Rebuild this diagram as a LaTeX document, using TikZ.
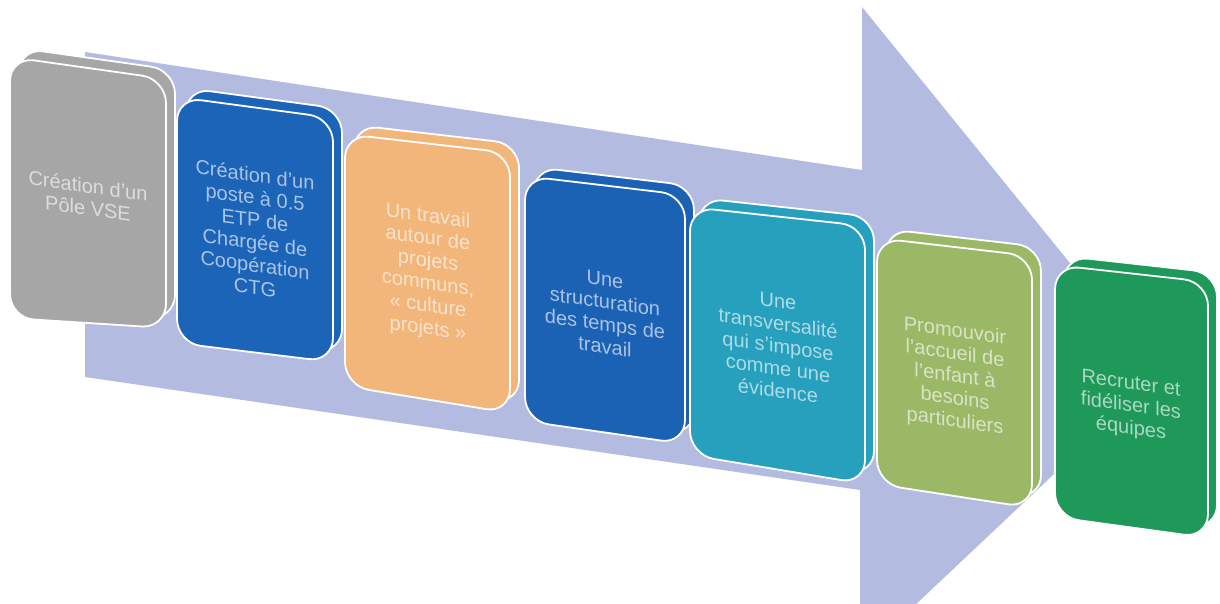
\documentclass[tikz,border=0pt]{standalone}
\usepackage{fontspec}
\setmainfont{Liberation Sans}
\definecolor{arrowc}{HTML}{B3BBE0}
\definecolor{cgray}{HTML}{A6A6A6}
\definecolor{cblue}{HTML}{1C64B8}
\definecolor{corange}{HTML}{F2B67B}
\definecolor{cdblue}{HTML}{1C62B4}
\definecolor{cteal}{HTML}{26A0BD}
\definecolor{colive}{HTML}{9BB866}
\definecolor{cgreen}{HTML}{1E995A}
\tikzset{
  cardface/.style={fill=#1, draw=white, line width=1.8pt, rounded corners=24pt},
  cardtext/.style={text=white!62!#1, font=\fontsize{20}{22.5}\selectfont,
    align=center, yslant=-0.14, inner sep=0pt},
  bigarrow/.style={fill=arrowc, draw=none},
}
\newcommand\mycardpair[5]{%
  \draw[cardface=#1, shift={(9,-9)}] #2 -- #3 -- #4 -- #5 -- cycle;
  \draw[cardface=#1] #2 -- #3 -- #4 -- #5 -- cycle;
}
\begin{document}
\begin{tikzpicture}[x=1pt,y=-1pt]
\useasboundingbox (0,0) rectangle (1220,603);
\clip (0,0) rectangle (1220,603);
% big perspective arrow
\fill[bigarrow] (85,52) -- (862,170) -- (862,7) -- (1160,374) -- (860,657)
  -- (860,490) -- (85,377) -- cycle;
% cards
\mycardpair{cgray}{(10,57)}{(166,79)}{(166,328)}{(10,318)}
\mycardpair{cblue}{(177,97)}{(333,118)}{(333,362)}{(177,343)}
\mycardpair{corange}{(345,134)}{(510,153)}{(510,413)}{(345,386)}
\mycardpair{cdblue}{(525,176)}{(685,195)}{(685,444)}{(525,421)}
\mycardpair{cteal}{(690,207)}{(865,226)}{(865,484)}{(690,455)}
\mycardpair{colive}{(877,238)}{(1032,256)}{(1032,508)}{(877,484)}
\mycardpair{cgreen}{(1055,265)}{(1208,282)}{(1208,538)}{(1055,517)}
% texts
\node[cardtext=cgray] (t1) at (88,197) {Création d'un\\Pôle VSE};
\node[cardtext=cblue] (t2) at (255,231) {Création d'un\\poste à 0.5\\ETP de\\Chargée de\\Coopération\\CTG};
\node[cardtext=corange] (t3) at (428,273) {Un travail\\autour de\\projets\\communs,\\« culture\\projets »};
\node[cardtext=cdblue] (t4) at (605,313) {Une\\structuration\\des temps de\\travail};
\node[cardtext=cteal] (t5) at (778,346) {Une\\transversalité\\qui s'impose\\comme une\\évidence};
\node[cardtext=colive] (t6) at (955,377) {Promouvoir\\l'accueil de\\l'enfant à\\besoins\\particuliers};
\node[cardtext=cgreen] (t7) at (1131,407) {Recruter et\\fidéliser les\\équipes};
\end{tikzpicture}
\end{document}
